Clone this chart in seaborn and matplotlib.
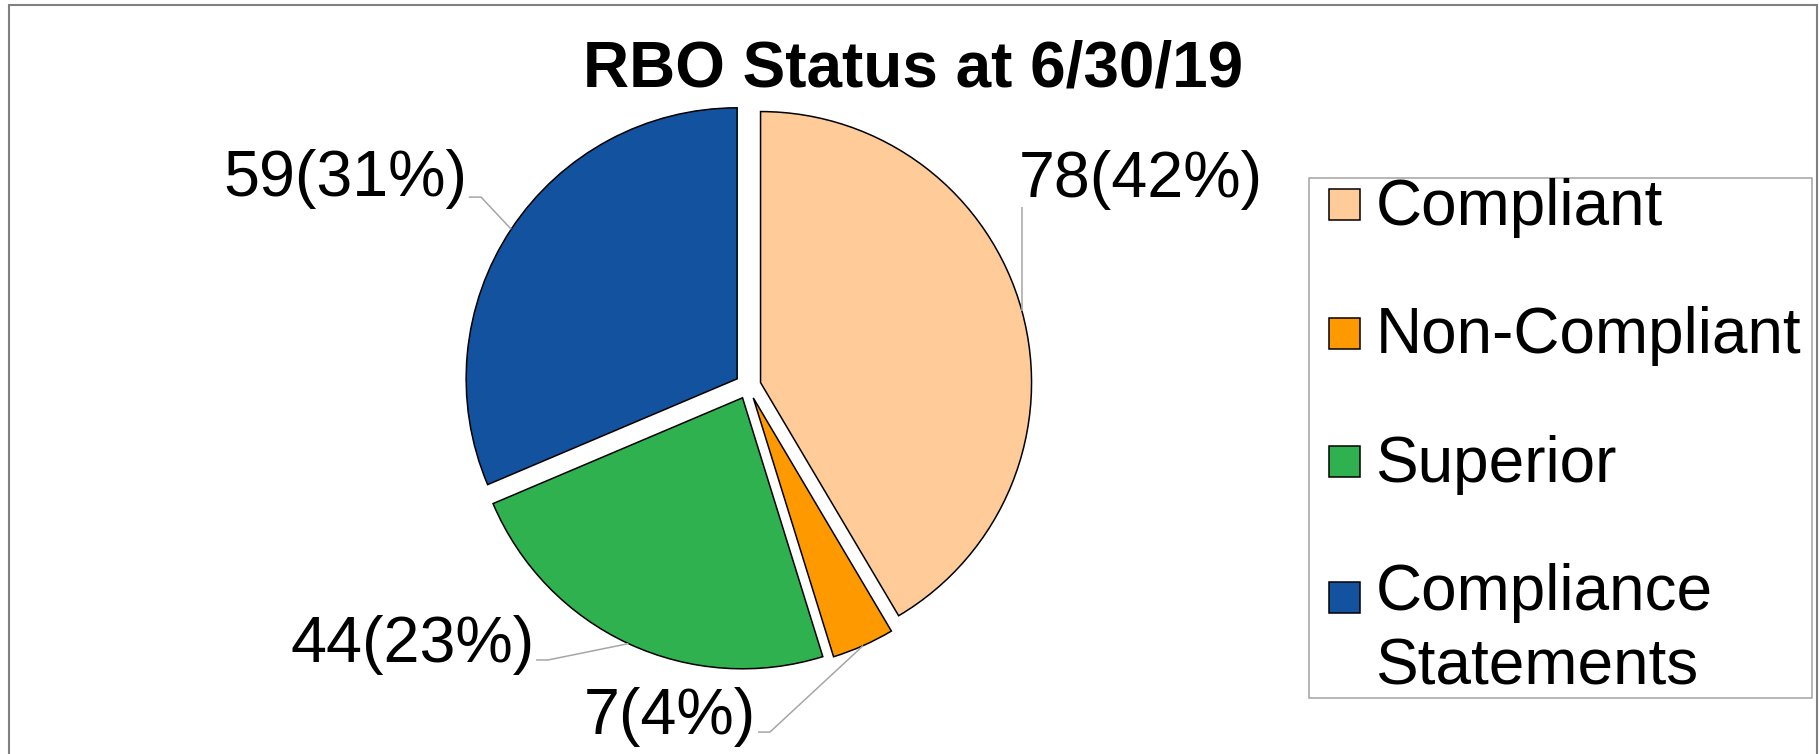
import numpy as np
import seaborn as sns
import matplotlib.pyplot as plt
from matplotlib.patches import Rectangle
from matplotlib.legend_handler import HandlerPatch

categories = ['Compliant', 'Non-Compliant', 'Superior', 'Compliance Statements']
counts = [78, 7, 44, 59]
percents = [42, 4, 23, 31]
hex_colors = ['#FFCC99', '#FF9900', '#2EB14E', '#12529F']

sns.set_theme(style='white')
plt.rcParams['font.family'] = ['Liberation Sans', 'DejaVu Sans']
plt.rcParams['text.color'] = 'black'
colors = sns.color_palette(hex_colors)

W, H = 1819, 754
fig = plt.figure(figsize=(W / 100, H / 100), dpi=100)
ax = fig.add_axes([0, 0, 1, 1])

# pie centre at (748, 386) px, radius 271 px
cx, cy, R = 748, 386, 271
wedges, _ = ax.pie(counts, colors=colors, startangle=90, counterclock=False,
                   explode=[0.048] * 4,
                   wedgeprops=dict(edgecolor='black', linewidth=1.1))
ax.set_aspect('auto')
ax.set_xlim(-cx / R, (W - cx) / R)
ax.set_ylim((cy - H) / R, cy / R)
ax.axis('off')

labels = [f'{c}({p}%)' for c, p in zip(counts, percents)]
lead_col = '#A6A6A6'
fs_lab = 46.5

for i, w in enumerate(wedges):
    mid = np.deg2rad((w.theta1 + w.theta2) / 2)
    px = w.center[0] + w.r * np.cos(mid)
    py = w.center[1] + w.r * np.sin(mid)
    if i == 0:
        path = [(px, py), (px, 0.662)]
        tx, ty, ha = px - 0.011, 0.697, 'left'
    elif i == 1:
        path = [(px, py), (0.081, -1.277), (0.037, -1.277)]
        tx, ty, ha = 0.03, -1.283, 'right'
    elif i == 2:
        path = [(px, py), (-0.738, -1.011), (-0.782, -1.011)]
        tx, ty, ha = -0.788, -1.018, 'right'
    else:
        path = [(px, py), (-0.985, 0.697), (-1.03, 0.697)]
        tx, ty, ha = -1.036, 0.70, 'right'
    xs, ys = zip(*path)
    ax.plot(xs, ys, color=lead_col, lw=1.1, solid_capstyle='butt')
    ax.text(tx, ty, labels[i], fontsize=fs_lab, ha=ha, va='baseline', color='black')

fig.text(913 / W, 1 - 87 / H, 'RBO Status at 6/30/19', fontsize=46,
         fontweight='bold', ha='center', va='baseline', color='black')


def square_handle(shift):
    def make(legend, orig_handle, xdescent, ydescent, width, height, fontsize):
        side = 0.485 * fontsize
        return Rectangle((-xdescent + 0.31 * fontsize, -ydescent + shift * fontsize),
                         side, side)
    return HandlerPatch(patch_func=make)


legend_labels = ['Compliant', 'Non-Compliant', 'Superior', 'Compliance\nStatements']
handler_map = {w: square_handle(0.57 if i == 3 else 0.0) for i, w in enumerate(wedges)}
x0, y0, x1, y1 = 1309, 178, 1812, 686
leg = ax.legend(wedges, legend_labels, loc='upper left', mode='expand',
                bbox_to_anchor=(x0 / W, 1 - y1 / H, (x1 - x0) / W, (y1 - y0) / H),
                bbox_transform=fig.transFigure, fontsize=46, frameon=True,
                fancybox=False, borderpad=0, borderaxespad=0, labelspacing=1.07,
                handlelength=0.80, handleheight=0.485, handletextpad=0.24,
                handler_map=handler_map)
leg.get_frame().set_edgecolor('#8C8C8C')
leg.get_frame().set_linewidth(1.1)
for t in leg.get_texts():
    t.set_linespacing(1.31)
    t.set_color('black')

fig.add_artist(Rectangle((8.5 / W, -0.02), (1817 - 8.5) / W, 1.02 - 5 / H,
                         transform=fig.transFigure, fill=False,
                         edgecolor='#808080', linewidth=1.5))

fig.savefig('out.png', dpi=100, facecolor='white')
